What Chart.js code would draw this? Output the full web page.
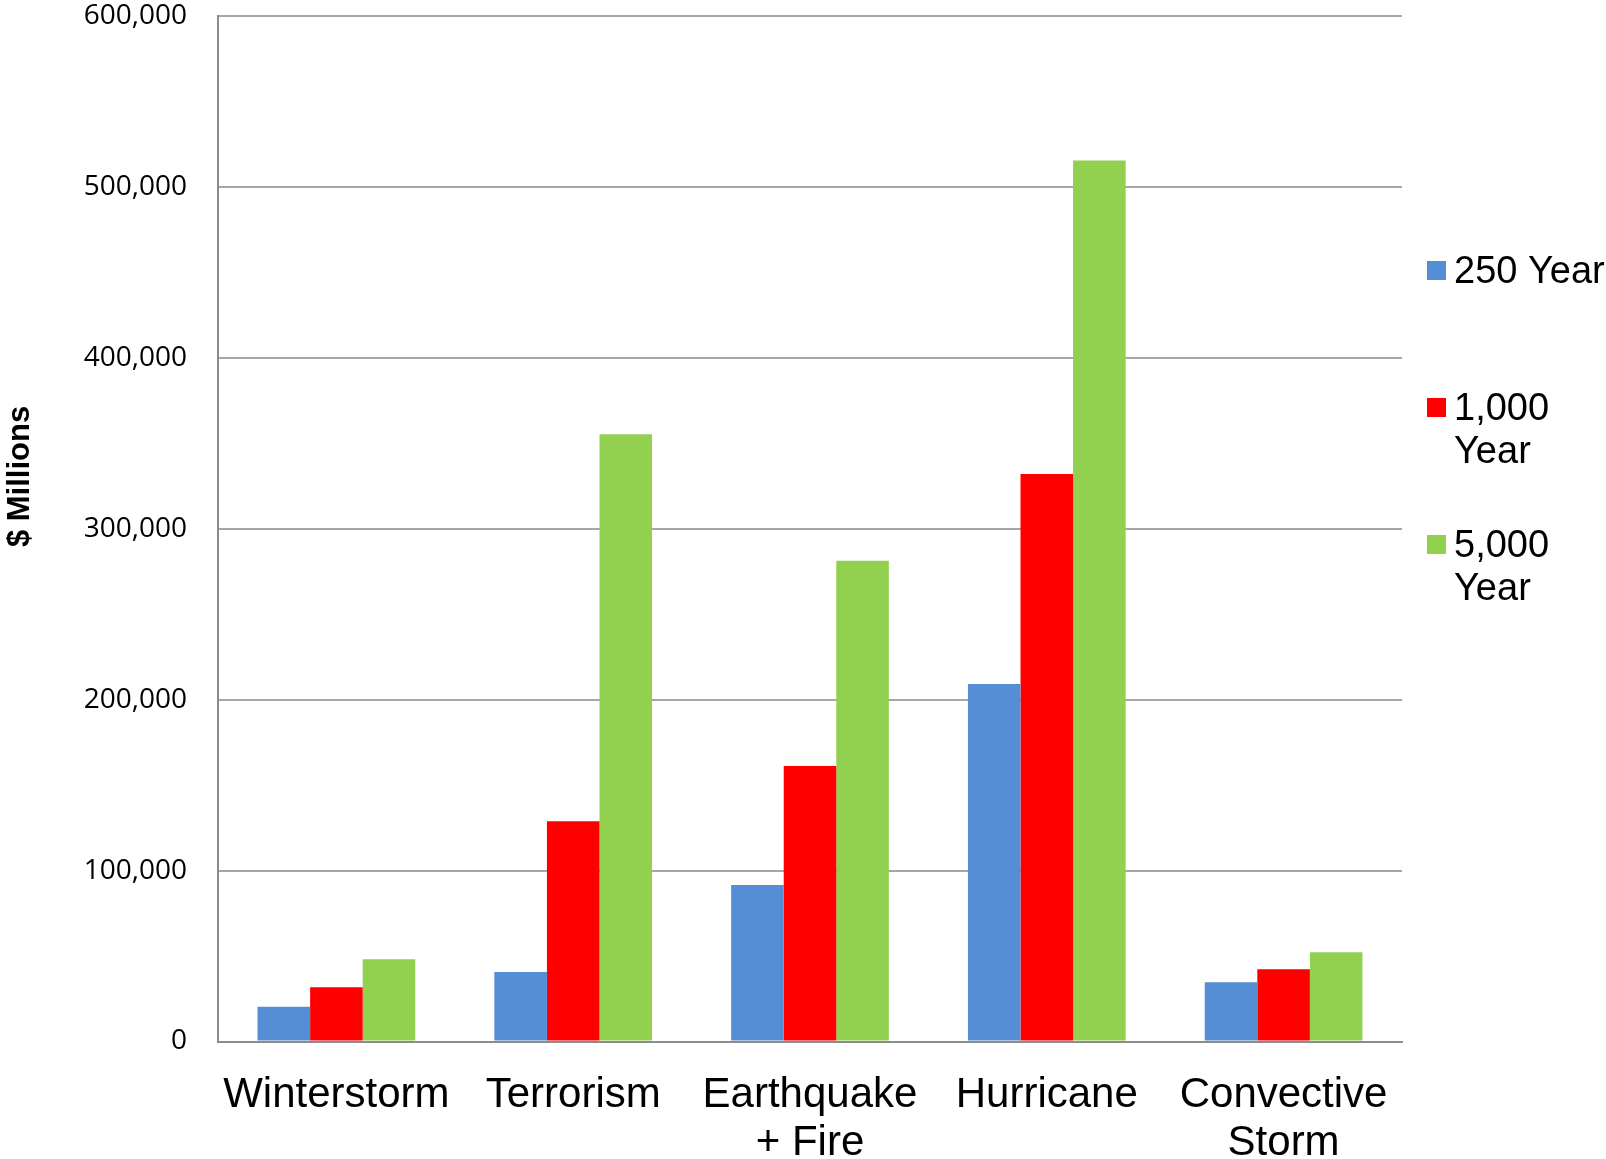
<!DOCTYPE html>
<html>
<head>
<meta charset="utf-8">
<style>
  html, body { margin: 0; padding: 0; background: #ffffff; }
  #wrap { width: 1606px; height: 1159px; position: relative; }
  canvas { display: block; }
</style>
<script src="https://cdn.jsdelivr.net/npm/chart.js@4.4.1/dist/chart.umd.min.js"></script>
</head>
<body>
<div id="wrap"><canvas id="chart" width="1606" height="1159"></canvas></div>
<script>
// Loss estimates by peril and return period ($ millions)
const categories = ['Winterstorm', 'Terrorism', ['Earthquake', '+ Fire'], 'Hurricane', ['Convective', 'Storm']];
const seriesNames = ['250 Year', '1,000 Year', '5,000 Year'];
const legendLines = [['250 Year'], ['1,000', 'Year'], ['5,000', 'Year']];
const year250 = [20400, 40700, 91600, 209200, 34600];
const year1000 = [31700, 128800, 161200, 332100, 42200];
const year5000 = [48100, 355300, 281300, 515500, 52200];
const yTicks = [0, 100000, 200000, 300000, 400000, 500000, 600000];
const seriesColors = ['#558ED5', '#FF0000', '#92D050'];
const yAxisTitle = '$ Millions';

// Rotated y-axis title
const yTitlePlugin = {
  id: 'yTitle',
  afterDraw(chart) {
    const { ctx, chartArea } = chart;
    const y = chartArea.top + (chartArea.bottom - chartArea.top) * 0.449;
    ctx.save();
    ctx.translate(29, y);
    ctx.rotate(-Math.PI / 2);
    ctx.font = 'bold 31px "Liberation Sans", Arial, sans-serif';
    ctx.fillStyle = '#000000';
    ctx.textAlign = 'center';
    ctx.textBaseline = 'alphabetic';
    ctx.fillText(yAxisTitle, 0, 0);
    ctx.restore();
  }
};

// Right-hand legend with wrapped entries
const sideLegendPlugin = {
  id: 'sideLegend',
  afterDraw(chart) {
    const { ctx, chartArea } = chart;
    const boxX = chartArea.right + 25;
    const textX = chartArea.right + 52;
    const box = 19;
    const lineH = 43;
    ctx.save();
    ctx.font = '38px "Liberation Sans", Arial, sans-serif';
    ctx.textAlign = 'left';
    ctx.textBaseline = 'alphabetic';
    chart.data.datasets.forEach((ds, i) => {
      const top = chartArea.top + 245 + i * 137;
      ctx.fillStyle = ds.backgroundColor;
      ctx.fillRect(boxX, top, box, box);
      ctx.fillStyle = '#000000';
      legendLines[i].forEach((line, j) => {
        ctx.fillText(line, textX, top + 22 + j * lineH);
      });
    });
    ctx.restore();
  }
};

const seriesValues = [year250, year1000, year5000];

new Chart(document.getElementById('chart'), {
  type: 'bar',
  data: {
    labels: categories,
    datasets: seriesNames.map((name, i) => ({
      label: name,
      data: seriesValues[i],
      backgroundColor: seriesColors[i],
      borderWidth: 0,
      barPercentage: 1,
      categoryPercentage: 0.666
    }))
  },
  options: {
    responsive: false,
    animation: false,
    devicePixelRatio: 1,
    layout: { padding: { top: 16, right: 204, bottom: 0, left: 0 } },
    plugins: {
      legend: { display: false },
      tooltip: { enabled: false },
      title: { display: false }
    },
    scales: {
      x: {
        grid: { display: false, drawTicks: false },
        border: { display: true, color: '#8c8c8c', width: 2 },
        ticks: {
          color: '#000000',
          font: { family: '"Liberation Sans", Arial, sans-serif', size: 42, lineHeight: 1.14 },
          padding: 30,
          maxRotation: 0,
          autoSkip: false
        },
        afterFit(scale) {
          scale.height = 117.5;
          scale.paddingLeft = 0;
          scale.paddingRight = 0;
        }
      },
      y: {
        min: 0,
        max: 600000,
        afterBuildTicks(scale) { scale.ticks = yTicks.map(v => ({ value: v })); },
        grid: { color: '#a6a6a6', lineWidth: 2, drawTicks: false },
        border: { display: true, color: '#8c8c8c', width: 2 },
        ticks: {
          color: '#000000',
          font: { family: '"Open Sans", sans-serif', size: 28, lineHeight: 1 },
          padding: 31,
          callback: (v) => Number(v).toLocaleString('en-US')
        },
        afterFit(scale) {
          scale.width = 218;
          scale.paddingTop = 0;
          scale.paddingBottom = 0;
        }
      }
    }
  },
  plugins: [yTitlePlugin, sideLegendPlugin]
});
</script>
</body>
</html>
